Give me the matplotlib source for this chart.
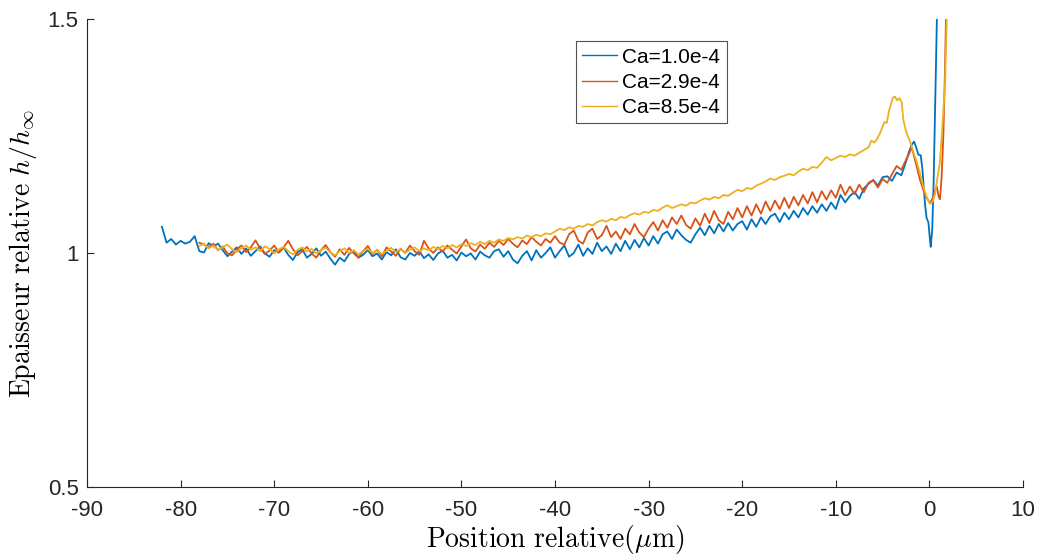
import matplotlib
matplotlib.use("Agg")
import matplotlib.pyplot as plt
import numpy as np

STEP = 0.5

blue_x0 = -82.0
blue_body = [
    1.056, 1.022, 1.030, 1.018, 1.026, 1.020, 1.024, 1.036, 1.004, 1.001,
    1.021, 1.014, 1.020, 1.006, 0.993, 1.003, 1.012, 0.998, 1.010, 0.994,
    1.004, 1.014, 0.999, 0.992, 1.006, 1.001, 1.012, 0.996, 0.985, 1.002,
    1.008, 0.990, 0.998, 1.010, 0.994, 1.003, 0.988, 0.975, 0.990, 0.982,
    0.998, 1.005, 0.990, 0.996, 1.006, 0.993, 0.999, 0.986, 1.002, 0.995,
    1.008, 0.991, 0.986, 1.000, 0.994, 1.004, 0.989, 0.997, 0.985, 0.999,
    1.005, 0.990, 0.996, 0.984, 1.001, 0.993, 0.999, 0.986, 1.003, 0.995,
    0.990, 1.004,
    1.008, 0.992, 1.004, 0.986, 0.978, 0.994, 1.004, 0.984, 1.006, 0.990,
    1.000, 1.012, 0.990, 1.004, 1.016, 0.992, 1.000, 1.018, 0.994, 1.010,
    0.998, 1.022, 1.004, 1.014, 0.998, 1.020, 1.004, 1.026, 1.008, 1.028,
    1.012, 1.032, 1.016, 1.036, 1.020, 1.040, 1.046, 1.030, 1.050, 1.038,
    1.028, 1.022, 1.040, 1.054, 1.038, 1.058, 1.042, 1.062, 1.046, 1.064,
    1.048, 1.062, 1.068, 1.050, 1.072, 1.056, 1.076, 1.062, 1.078, 1.084,
    1.066, 1.086, 1.072, 1.090, 1.076, 1.096, 1.082, 1.100, 1.086, 1.104,
    1.090, 1.108, 1.094, 1.124, 1.108, 1.122, 1.130, 1.116, 1.138, 1.148,
    1.156, 1.144, 1.162, 1.164, 1.154, 1.172, 1.166,
]
blue_tail_x = [-2.5, -2.2, -1.9, -1.64, -1.4, -1.18, -0.93, -0.75, -0.6, -0.45,
               -0.3, -0.1, 0.05, 0.14, 0.3, 0.45, 0.6, 0.78, 0.88]
blue_tail_y = [1.195, 1.215, 1.231, 1.238, 1.225, 1.21, 1.209, 1.18, 1.14, 1.10,
               1.075, 1.065, 1.03, 1.013, 1.05, 1.15, 1.30, 1.48, 1.58]

orange_x0 = -78.0
orange_body = [
    1.022, 1.018, 1.012, 1.020, 1.006, 1.014, 0.999, 0.995, 1.008, 1.016,
    1.002, 1.012, 1.027, 1.010, 0.998, 1.005, 1.016, 1.001, 1.012, 1.026,
    1.008, 0.995, 1.004, 1.013, 0.999, 0.990, 1.006, 1.017, 1.002, 0.992,
    1.008, 0.996, 1.011, 0.999, 0.990, 1.004, 1.015, 0.998, 1.007, 0.993,
    1.012, 1.003, 0.994, 1.009, 1.000, 1.016, 1.004, 0.996, 1.026, 1.010,
    1.000, 1.012, 1.003, 1.016, 1.007, 0.999, 1.014, 1.029, 1.010, 1.003,
    1.018, 1.009, 1.022, 1.013, 1.026, 1.017, 1.030, 1.020, 1.012, 1.027,
    1.019, 1.034, 1.024, 1.016, 1.030, 1.022,
    1.036, 1.022, 1.018, 1.040, 1.048, 1.026, 1.020, 1.044, 1.052, 1.030,
    1.038, 1.058, 1.034, 1.046, 1.030, 1.052, 1.040, 1.062, 1.044, 1.034,
    1.052, 1.066, 1.048, 1.070, 1.054, 1.076, 1.062, 1.080, 1.060, 1.052,
    1.074, 1.058, 1.084, 1.064, 1.090, 1.070, 1.062, 1.088, 1.072, 1.096,
    1.076, 1.100, 1.080, 1.104, 1.084, 1.110, 1.090, 1.112, 1.094, 1.118,
    1.096, 1.120, 1.102, 1.124, 1.106, 1.130, 1.108, 1.132, 1.114, 1.134,
    1.118, 1.146, 1.124, 1.142, 1.126, 1.146, 1.130, 1.150, 1.156, 1.140,
    1.158, 1.150, 1.168, 1.186, 1.178,
]
orange_tail_x = [-2.43, -2.1, -1.89, -1.54, -1.0, -0.47, 0.07, 0.4, 0.78, 1.0,
                 1.13, 1.3, 1.49, 1.65, 1.82]
orange_tail_y = [1.202, 1.215, 1.226, 1.199, 1.156, 1.124, 1.106, 1.12, 1.143, 1.12,
                 1.115, 1.16, 1.25, 1.38, 1.55]

yellow_x0 = -78.0
yellow_body = [
    1.015, 1.020, 1.010, 1.016, 1.006, 1.013, 1.018, 1.008, 1.002, 1.011,
    1.016, 1.007, 1.012, 1.004, 1.014, 1.009, 0.999, 1.008, 1.013, 1.004,
    0.997, 1.007, 1.012, 1.003, 1.009, 0.999, 1.006, 1.011, 1.001, 0.995,
    1.004, 1.010, 1.000, 1.006, 0.997, 1.004, 1.009, 1.000, 1.006, 0.998,
    1.005, 1.011, 1.002, 1.008, 1.000, 1.007, 1.012, 1.004, 1.010, 1.006,
    1.013, 1.008, 1.015, 1.010, 1.017, 1.012, 1.019, 1.015, 1.021, 1.017,
    1.024, 1.019, 1.026, 1.022, 1.029, 1.026, 1.032, 1.029, 1.034, 1.031,
    1.037, 1.034, 1.039, 1.036, 1.042, 1.040, 1.046, 1.052, 1.049, 1.055,
    1.052, 1.058, 1.056, 1.062, 1.059, 1.066, 1.070, 1.067, 1.073, 1.070,
    1.077, 1.075, 1.081, 1.085, 1.082, 1.088, 1.086, 1.092, 1.090, 1.097,
    1.102, 1.096, 1.100, 1.104, 1.101, 1.108, 1.106, 1.112, 1.117, 1.114,
    1.120, 1.117, 1.124, 1.122, 1.129, 1.135, 1.132, 1.139, 1.137, 1.144,
    1.148, 1.153, 1.159, 1.156, 1.162, 1.165, 1.169, 1.166, 1.174, 1.180,
    1.177, 1.184, 1.182, 1.193, 1.205, 1.198, 1.203, 1.208, 1.205, 1.211,
    1.208, 1.214, 1.220, 1.226,
]
yellow_tail_x = [-6.2, -5.9, -5.63, -5.28, -5.0, -4.8, -4.55, -4.3, -4.1, -3.9,
                 -3.67, -3.45, -3.2, -2.96, -2.78, -2.6, -2.43, -2.07, -1.7, -1.36,
                 -1.0, -0.65, -0.3, 0.07, 0.35, 0.6, 0.85, 1.1, 1.35, 1.67, 1.92]
yellow_tail_y = [1.24, 1.236, 1.242, 1.256, 1.27, 1.28, 1.278, 1.305, 1.318, 1.332,
                 1.334, 1.326, 1.331, 1.322, 1.284, 1.268, 1.256, 1.238, 1.215, 1.195,
                 1.17, 1.142, 1.12, 1.105, 1.11, 1.125, 1.16, 1.19, 1.26, 1.36, 1.55]

labels = ["Ca=1.0e-4", "Ca=2.9e-4", "Ca=8.5e-4"]
colors = ["#0072BD", "#D95319", "#EDB120"]

xticks = list(range(-90, 11, 10))
yticks = [0.5, 1.0, 1.5]
yticklabels = ["0.5", "1", "1.5"]


def _series(x0, body, tail_x, tail_y):
    x = x0 + STEP * np.arange(len(body))
    return np.concatenate([x, tail_x]), np.concatenate([body, tail_y])


def main():
    plt.rcParams["font.family"] = ["Liberation Sans", "DejaVu Sans"]
    plt.rcParams["mathtext.fontset"] = "cm"

    fig = plt.figure(figsize=(10.43, 5.58), dpi=100)
    ax = fig.add_axes([87 / 1043, 71 / 558, 936 / 1043, 468 / 558])

    data = [
        _series(blue_x0, blue_body, blue_tail_x, blue_tail_y),
        _series(orange_x0, orange_body, orange_tail_x, orange_tail_y),
        _series(yellow_x0, yellow_body, yellow_tail_x, yellow_tail_y),
    ]
    for (x, y), lab, c in zip(data, labels, colors):
        ax.plot(x, y, color=c, lw=1.3, label=lab)

    ax.set_xlim(-90, 10)
    ax.set_ylim(0.5, 1.5)
    ax.set_xticks(xticks)
    ax.set_xticklabels([str(t) for t in xticks])
    ax.set_yticks(yticks)
    ax.set_yticklabels(yticklabels)
    ax.tick_params(direction="in", length=5, width=0.8, labelsize=16,
                   colors="#262626", labelcolor="#262626")
    ax.tick_params(axis="x", pad=9)
    ax.tick_params(axis="y", pad=6)
    for s in ("top", "right"):
        ax.spines[s].set_visible(False)
    for s in ("left", "bottom"):
        ax.spines[s].set_color("#262626")
        ax.spines[s].set_linewidth(0.8)

    ax.set_xlabel(r"$\mathrm{Position\ relative(}\mu\mathrm{m)}$", fontsize=20,
                  labelpad=2)
    ax.set_ylabel(r"$\mathrm{Epaisseur\ relative}\ h/h_{\infty}$", fontsize=20,
                  labelpad=6)

    leg = ax.legend(loc="upper left", bbox_to_anchor=(0.522, 0.952),
                    fontsize=15, frameon=True, fancybox=False,
                    handlelength=1.7, handletextpad=0.25, borderpad=0.3,
                    labelspacing=0.3, borderaxespad=0)
    leg.get_frame().set_edgecolor("#262626")
    leg.get_frame().set_linewidth(0.8)
    for line in leg.get_lines():
        line.set_linewidth(1.0)

    fig.savefig("out.png", dpi=100)
    plt.close(fig)


if __name__ == "__main__":
    main()
